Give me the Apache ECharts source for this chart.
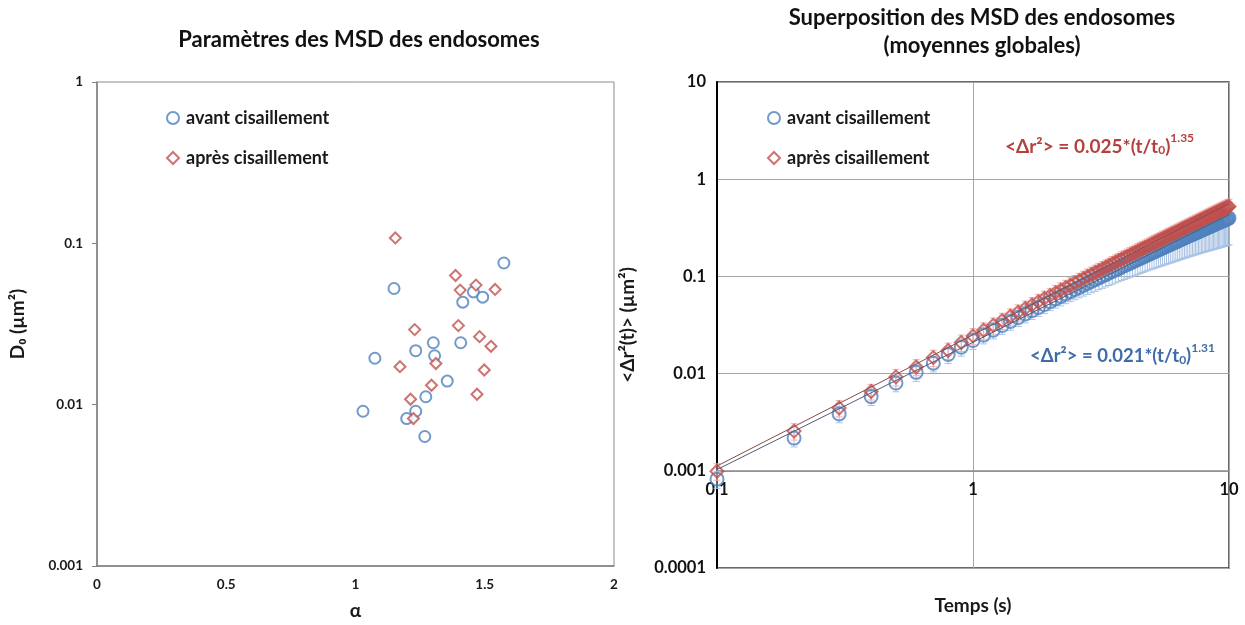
<!DOCTYPE html>
<html>
<head>
<meta charset="utf-8">
<script src="https://cdn.jsdelivr.net/npm/echarts@6/dist/echarts.min.js"></script>
<style>
html,body{margin:0;padding:0;background:#fff;}
#chart{width:1245px;height:625px;}
</style>
</head>
<body>
<div id="chart"></div>
<script>
// ---- Left chart: MSD parameters (alpha, D0) ----
const avantAlpha = [1.029,1.075,1.149,1.233,1.198,1.233,1.268,1.272,1.301,1.306,1.355,1.407,1.415,1.456,1.492,1.574];
const avantD0    = [0.0091,0.0194,0.0525,0.0216,0.0082,0.0091,0.00635,0.0112,0.0242,0.0201,0.0140,0.0242,0.0432,0.0500,0.0464,0.0755];
const apresAlpha = [1.154,1.387,1.466,1.405,1.540,1.229,1.398,1.480,1.524,1.311,1.172,1.498,1.294,1.213,1.470,1.224];
const apresD0    = [0.108,0.0632,0.0551,0.0513,0.0518,0.0292,0.0309,0.0264,0.0230,0.0180,0.0172,0.0164,0.0132,0.0108,0.0116,0.0082];

// ---- Right chart: global mean MSD ----
const times = [0.1,0.2,0.3,0.4,0.5,0.6,0.7,0.8,0.9,1.0,
  1.1,1.2,1.3,1.4,1.5,1.6,1.7,1.8,1.9,2.0,
  2.1,2.2,2.3,2.4,2.5,2.6,2.7,2.8,2.9,3.0,
  3.1,3.2,3.3,3.4,3.5,3.6,3.7,3.8,3.9,4.0,
  4.1,4.2,4.3,4.4,4.5,4.6,4.7,4.8,4.9,5.0,
  5.1,5.2,5.3,5.4,5.5,5.6,5.7,5.8,5.9,6.0,
  6.1,6.2,6.3,6.4,6.5,6.6,6.7,6.8,6.9,7.0,
  7.1,7.2,7.3,7.4,7.5,7.6,7.7,7.8,7.9,8.0,
  8.1,8.2,8.3,8.4,8.5,8.6,8.7,8.8,8.9,9.0,
  9.1,9.2,9.3,9.4,9.5,9.6,9.7,9.8,9.9,10.0];
const avantMSD = [0.00082,0.00217,0.00385,0.0058,0.0080,0.0103,0.0128,0.0157,0.0187,0.0219,
  0.0249,0.0280,0.0312,0.0344,0.0377,0.0411,0.0445,0.0479,0.0514,0.0550,
  0.0586,0.0622,0.0659,0.0696,0.0733,0.0771,0.0809,0.0848,0.0886,0.0925,
  0.0964,0.1003,0.1043,0.1083,0.1123,0.1163,0.1203,0.1244,0.1285,0.1327,
  0.1367,0.1409,0.1451,0.1492,0.1534,0.1576,0.1618,0.1660,0.1703,0.1745,
  0.1788,0.1830,0.1873,0.1916,0.1959,0.2002,0.2046,0.2089,0.2133,0.2177,
  0.2220,0.2264,0.2307,0.2351,0.2395,0.2439,0.2484,0.2528,0.2572,0.2617,
  0.2662,0.2706,0.2751,0.2796,0.2841,0.2886,0.2931,0.2976,0.3020,0.3066,
  0.3112,0.3157,0.3202,0.3248,0.3293,0.3339,0.3384,0.3430,0.3476,0.3521,
  0.3567,0.3614,0.3660,0.3705,0.3751,0.3797,0.3843,0.3889,0.3935,0.3981];
const avantSD = [0.00016,0.00041,0.00073,0.0011,0.0015,0.0020,0.0024,0.0030,0.0036,0.0042,
  0.0047,0.0053,0.0059,0.0065,0.0072,0.0078,0.0085,0.0091,0.0098,0.0105,
  0.0114,0.0124,0.0135,0.0146,0.0158,0.0170,0.0182,0.0195,0.0208,0.0222,
  0.0235,0.0249,0.0263,0.0277,0.0292,0.0307,0.0322,0.0338,0.0355,0.0372,
  0.0388,0.0406,0.0424,0.0442,0.0460,0.0479,0.0498,0.0518,0.0538,0.0558,
  0.0579,0.0600,0.0622,0.0644,0.0666,0.0689,0.0712,0.0735,0.0759,0.0784,
  0.0806,0.0829,0.0851,0.0875,0.0898,0.0922,0.0946,0.0971,0.0995,0.1021,
  0.1046,0.1072,0.1098,0.1124,0.1151,0.1177,0.1205,0.1232,0.1259,0.1288,
  0.1316,0.1345,0.1374,0.1403,0.1432,0.1462,0.1492,0.1523,0.1554,0.1584,
  0.1612,0.1641,0.1669,0.1697,0.1725,0.1754,0.1783,0.1812,0.1842,0.1871];
const apresMSD = [0.00099,0.00256,0.00443,0.00655,0.00925,0.0117,0.0146,0.0173,0.0209,0.0244,
  0.0279,0.0314,0.0351,0.0389,0.0428,0.0468,0.0508,0.0550,0.0592,0.0634,
  0.0678,0.0722,0.0767,0.0812,0.0858,0.0905,0.0952,0.0999,0.1047,0.1096,
  0.1145,0.1194,0.1244,0.1295,0.1346,0.1397,0.1448,0.1500,0.1553,0.1605,
  0.1658,0.1712,0.1766,0.1820,0.1874,0.1929,0.1984,0.2040,0.2096,0.2152,
  0.2208,0.2265,0.2322,0.2379,0.2437,0.2495,0.2553,0.2611,0.2670,0.2729,
  0.2788,0.2847,0.2906,0.2967,0.3026,0.3086,0.3147,0.3207,0.3268,0.3328,
  0.3390,0.3451,0.3513,0.3575,0.3637,0.3699,0.3762,0.3825,0.3887,0.3951,
  0.4014,0.4078,0.4141,0.4206,0.4269,0.4333,0.4397,0.4461,0.4527,0.4591,
  0.4656,0.4721,0.4786,0.4851,0.4918,0.4984,0.5050,0.5115,0.5181,0.5248];
const apresSD = [0.00019,0.00049,0.00084,0.0012,0.0018,0.0022,0.0028,0.0033,0.0040,0.0046,
  0.0053,0.0060,0.0067,0.0074,0.0081,0.0089,0.0097,0.0105,0.0112,0.0120,
  0.0129,0.0137,0.0146,0.0154,0.0163,0.0172,0.0181,0.0190,0.0199,0.0208,
  0.0218,0.0227,0.0236,0.0246,0.0256,0.0265,0.0275,0.0285,0.0295,0.0305,
  0.0315,0.0325,0.0336,0.0346,0.0356,0.0367,0.0377,0.0388,0.0398,0.0409,
  0.0420,0.0430,0.0441,0.0452,0.0463,0.0474,0.0485,0.0496,0.0507,0.0519,
  0.0530,0.0541,0.0552,0.0564,0.0575,0.0586,0.0598,0.0609,0.0621,0.0632,
  0.0644,0.0656,0.0667,0.0679,0.0691,0.0703,0.0715,0.0727,0.0739,0.0751,
  0.0763,0.0775,0.0787,0.0799,0.0811,0.0823,0.0835,0.0848,0.0860,0.0872,
  0.0885,0.0897,0.0909,0.0922,0.0934,0.0947,0.0960,0.0972,0.0984,0.0997];

// power-law trend lines (end points)
const fitTimes = [0.1, 10];
const fitAvant = [0.00103, 0.43];
const fitApres = [0.00112, 0.56];

const NAME_AVANT = 'avant cisaillement';
const NAME_APRES = 'après cisaillement';

const BLUE = '#4F81BD', RED = '#C0504D';
const BLUE_ERR = '#a9c3e4', RED_ERR = '#efaeae';
const FONT = 'Lato, "Open Sans", sans-serif';

function zip(a, b) { return a.map((v, i) => [v, b[i]]); }
function zip3(a, b, c) { return a.map((v, i) => [v, b[i], c[i]]); }
function logLabel(v) {
  const n = Math.round(Math.log10(v));
  return n >= 0 ? String(Math.pow(10, n)) : '0.' + '0'.repeat(-n - 1) + '1';
}
function errRender(color) {
  return function (params, api) {
    const x = api.value(0), y = api.value(1), e = api.value(2);
    const top = api.coord([x, y + e]);
    const bot = api.coord([x, Math.max(y - e, 1e-6)]);
    const hw = 3.5;
    const st = { stroke: color, lineWidth: 1 };
    return { type: 'group', children: [
      { type: 'line', shape: { x1: top[0], y1: top[1], x2: bot[0], y2: bot[1] }, style: st },
      { type: 'line', shape: { x1: top[0] - hw, y1: top[1], x2: top[0] + hw, y2: top[1] }, style: st },
      { type: 'line', shape: { x1: bot[0] - hw, y1: bot[1], x2: bot[0] + hw, y2: bot[1] }, style: st }
    ]};
  };
}

const labelStyleL = { fontFamily: FONT, fontWeight: 'bold', fontSize: 13.5, color: '#1a1a1a' };
const labelStyleR = { fontFamily: FONT, fontWeight: 'bold', fontSize: 16.5, color: '#111' };
const nameStyle = { fontFamily: FONT, fontWeight: 'bold', fontSize: 19, color: '#1a1a1a' };

const legendData = [
  { name: NAME_AVANT, icon: 'circle', itemStyle: { color: '#fff', borderColor: BLUE, borderWidth: 2 } },
  { name: NAME_APRES, icon: 'diamond', itemStyle: { color: '#fff', borderColor: RED, borderWidth: 2 } }
];
const legendText = { fontFamily: FONT, fontWeight: 'bold', fontSize: 18, color: '#1a1a1a', padding: [0, 0, 0, 2] };

const chart = echarts.init(document.getElementById('chart'));
chart.setOption({
  backgroundColor: '#ffffff',
  animation: false,
  legend: [
    { left: 161, top: 104, orient: 'vertical', itemGap: 22, itemWidth: 12, itemHeight: 12,
      textStyle: legendText, data: legendData, selectedMode: false },
    { left: 762, top: 104, orient: 'vertical', itemGap: 22, itemWidth: 12, itemHeight: 12,
      textStyle: legendText, data: legendData, selectedMode: false }
  ],
  grid: [
    { left: 97, top: 82, width: 517, height: 486, show: true, borderColor: '#8c8c8c', borderWidth: 1 },
    { left: 717, top: 82, width: 512, height: 486, show: true, borderColor: '#3a3a3a', borderWidth: 1.5 }
  ],
  xAxis: [
    { gridIndex: 0, type: 'value', min: 0, max: 2, interval: 0.5,
      axisLine: { show: true, lineStyle: { color: '#7f7f7f', width: 1.5 } },
      axisTick: { show: false }, splitLine: { show: false },
      axisLabel: Object.assign({ margin: 12 }, labelStyleL),
      name: 'α', nameLocation: 'middle', nameGap: 35, nameTextStyle: nameStyle },
    { gridIndex: 1, type: 'log', logBase: 10, min: 0.1, max: 10, offset: -97.2,
      axisLine: { show: true, lineStyle: { color: '#8c8c8c', width: 1.5 } },
      axisTick: { show: false }, minorTick: { show: false },
      splitLine: { show: true, lineStyle: { color: '#a6a6a6', width: 1 } },
      axisLabel: Object.assign({ margin: 10, formatter: logLabel }, labelStyleR),
      name: 'Temps (s)', nameLocation: 'middle', nameGap: 126, nameTextStyle: nameStyle }
  ],
  yAxis: [
    { gridIndex: 0, type: 'log', logBase: 10, min: 0.001, max: 1,
      axisLine: { show: true, lineStyle: { color: '#7f7f7f', width: 1.5 } },
      axisTick: { show: true, inside: false, length: 5, lineStyle: { color: '#7f7f7f' } },
      minorTick: { show: false }, splitLine: { show: false },
      axisLabel: Object.assign({ margin: 14, formatter: logLabel }, labelStyleL),
      name: 'D₀ (µm²)', nameLocation: 'middle', nameGap: 70, nameRotate: 90, nameTextStyle: nameStyle },
    { gridIndex: 1, type: 'log', logBase: 10, min: 0.0001, max: 10,
      axisLine: { show: true, lineStyle: { color: '#000', width: 2 } },
      axisTick: { show: false }, minorTick: { show: false },
      splitLine: { show: true, lineStyle: { color: '#a6a6a6', width: 1 } },
      axisLabel: Object.assign({ margin: 11, formatter: logLabel }, labelStyleR),
      name: '<Δr²(t)> (µm²)', nameLocation: 'middle', nameGap: 80, nameRotate: 90, nameTextStyle: nameStyle }
  ],
  series: [
    { name: NAME_AVANT, type: 'scatter', xAxisIndex: 0, yAxisIndex: 0, symbol: 'circle', symbolSize: 11,
      itemStyle: { color: '#fff', borderColor: BLUE, borderWidth: 2 }, data: zip(avantAlpha, avantD0) },
    { name: NAME_APRES, type: 'scatter', xAxisIndex: 0, yAxisIndex: 0, symbol: 'diamond', symbolSize: 11,
      itemStyle: { color: '#fff', borderColor: RED, borderWidth: 2 }, data: zip(apresAlpha, apresD0) },

    { type: 'custom', xAxisIndex: 1, yAxisIndex: 1, renderItem: errRender(BLUE_ERR),
      encode: { x: 0, y: 1 }, data: zip3(times, avantMSD, avantSD), z: 1 },
    { type: 'custom', xAxisIndex: 1, yAxisIndex: 1, renderItem: errRender(RED_ERR),
      encode: { x: 0, y: 1 }, data: zip3(times, apresMSD, apresSD), z: 1 },
    { name: NAME_AVANT, type: 'scatter', xAxisIndex: 1, yAxisIndex: 1, symbol: 'circle', symbolSize: 13,
      itemStyle: { color: 'rgba(255,255,255,0)', borderColor: BLUE, borderWidth: 2 },
      data: zip(times, avantMSD), z: 2 },
    { name: NAME_APRES, type: 'scatter', xAxisIndex: 1, yAxisIndex: 1, symbol: 'diamond', symbolSize: 13,
      itemStyle: { color: 'rgba(255,255,255,0)', borderColor: RED, borderWidth: 2 },
      data: zip(times, apresMSD), z: 3 },
    { type: 'line', xAxisIndex: 1, yAxisIndex: 1, showSymbol: false, symbol: 'none', silent: true,
      lineStyle: { color: '#4d5f7a', width: 1 }, data: zip(fitTimes, fitAvant), z: 4 },
    { type: 'line', xAxisIndex: 1, yAxisIndex: 1, showSymbol: false, symbol: 'none', silent: true,
      lineStyle: { color: '#8a4a48', width: 1 }, data: zip(fitTimes, fitApres), z: 4 }
  ],
  graphic: [
    { type: 'text', x: 359, y: 40, style: { text: 'Paramètres des MSD des endosomes', align: 'center', verticalAlign: 'middle',
      font: 'bold 22px ' + FONT, fill: '#111' } },
    { type: 'text', x: 982, y: 18, style: { text: 'Superposition des MSD des endosomes', align: 'center', verticalAlign: 'middle',
      font: 'bold 22px ' + FONT, fill: '#111' } },
    { type: 'text', x: 982, y: 46, style: { text: '(moyennes globales)', align: 'center', verticalAlign: 'middle',
      font: 'bold 22px ' + FONT, fill: '#111' } },
    { type: 'text', x: 1005, y: 132, z: 10, style: {
      text: '{a|<Δr²> = 0.025*(t/t}{sub|0}{a|)}{sup|1.35}',
      rich: {
        a: { fontFamily: FONT, fontWeight: 'bold', fontSize: 19, fill: '#b4413d', color: '#b4413d', verticalAlign: 'bottom', lineHeight: 24 },
        sub: { fontFamily: FONT, fontWeight: 'bold', fontSize: 12, fill: '#b4413d', color: '#b4413d', padding: [7, 0, 0, 0], verticalAlign: 'bottom', lineHeight: 24 },
        sup: { fontFamily: FONT, fontWeight: 'bold', fontSize: 12, fill: '#b4413d', color: '#b4413d', padding: [0, 0, 9, 0], verticalAlign: 'top', lineHeight: 24 }
      } } },
    { type: 'text', x: 1030, y: 342, z: 10, style: {
      text: '{a|<Δr²> = 0.021*(t/t}{sub|0}{a|)}{sup|1.31}',
      rich: {
        a: { fontFamily: FONT, fontWeight: 'bold', fontSize: 18.5, fill: '#3f6ca8', color: '#3f6ca8', verticalAlign: 'bottom', lineHeight: 24 },
        sub: { fontFamily: FONT, fontWeight: 'bold', fontSize: 12, fill: '#3f6ca8', color: '#3f6ca8', padding: [7, 0, 0, 0], verticalAlign: 'bottom', lineHeight: 24 },
        sup: { fontFamily: FONT, fontWeight: 'bold', fontSize: 12, fill: '#3f6ca8', color: '#3f6ca8', padding: [0, 0, 9, 0], verticalAlign: 'top', lineHeight: 24 }
      } } }
  ]
});
</script>
</body>
</html>
